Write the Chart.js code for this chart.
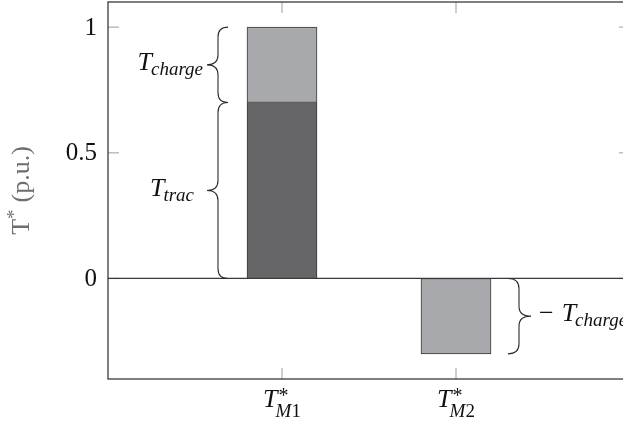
<!DOCTYPE html>
<html>
<head>
<meta charset="utf-8">
<script src="https://cdn.jsdelivr.net/npm/chart.js@4/dist/chart.umd.min.js"></script>
<style>
  html, body { margin: 0; padding: 0; background: #fff; overflow: hidden; }
  canvas { display: block; }
</style>
</head>
<body>
<canvas id="chart" width="640" height="425"></canvas>
<script>
// --- data ---
const categories = ['M1', 'M2'];      // subscript of T* on the x axis
const categoryPos = [1, 2];           // positions on a 0..3 x axis
const tracValues = [0.7, null];
const chargeValues = [0.3, -0.3];
const yTicks = [0, 0.5, 1];
const yMin = -0.4, yMax = 1.1;
const xMin = 0, xMax = 3;

const SERIF = '"Liberation Serif", "DejaVu Serif", serif';
const DARK = '#666668';
const LIGHT = '#a8a9ac';
const EDGE = '#3a3a3a';
const BAR_W = 70;

function font(size, italic) {
  return (italic ? 'italic ' : '') + size + 'px ' + SERIF;
}

// draw a run of text pieces: {t, size, italic, dy, gap}
function runWidth(ctx, parts) {
  let w = 0;
  parts.forEach(p => { ctx.font = font(p.size, p.italic); w += (p.gap || 0) + ctx.measureText(p.t).width; });
  return w;
}
function drawRun(ctx, parts, x, y, align) {
  const w = runWidth(ctx, parts);
  let cx = align === 'right' ? x - w : align === 'center' ? x - w / 2 : x;
  parts.forEach(p => {
    cx += p.gap || 0;
    ctx.font = font(p.size, p.italic);
    ctx.fillText(p.t, cx, y + (p.dy || 0));
    cx += ctx.measureText(p.t).width;
  });
}

// vertical curly brace between y1 (top) and y2 (bottom); ends at xEnd, spine at xMid, tip at xTip
function brace(ctx, xEnd, xMid, xTip, y1, y2) {
  const r = 10, ym = (y1 + y2) / 2;
  ctx.beginPath();
  ctx.moveTo(xEnd, y1);
  ctx.quadraticCurveTo(xMid, y1, xMid, y1 + r);
  ctx.lineTo(xMid, ym - r);
  ctx.quadraticCurveTo(xMid, ym, xTip, ym);
  ctx.quadraticCurveTo(xMid, ym, xMid, ym + r);
  ctx.lineTo(xMid, y2 - r);
  ctx.quadraticCurveTo(xMid, y2, xEnd, y2);
  ctx.stroke();
  return ym;
}

const decor = {
  id: 'decor',
  afterDatasetsDraw(chart) {
    const { ctx, chartArea: a, scales: { x, y } } = chart;
    const line = (x1, y1, x2, y2) => { ctx.beginPath(); ctx.moveTo(x1, y1); ctx.lineTo(x2, y2); ctx.stroke(); };
    ctx.save();

    // inward ticks, light gray
    ctx.strokeStyle = '#b4b4b4';
    ctx.lineWidth = 1.3;
    yTicks.forEach(v => {
      const py = y.getPixelForValue(v);
      line(a.left, py, a.left + 11, py);
      line(a.right - 11, py, a.right, py);
    });
    categoryPos.forEach(v => {
      const px = x.getPixelForValue(v);
      line(px, a.bottom, px, a.bottom - 11);
      line(px, a.top, px, a.top + 11);
    });

    // frame and zero line
    ctx.strokeStyle = EDGE;
    ctx.lineWidth = 1.3;
    ctx.strokeRect(a.left, a.top, a.right - a.left, a.bottom - a.top);
    const y0 = y.getPixelForValue(0);
    line(a.left, y0, a.right, y0);

    // y tick labels
    ctx.fillStyle = '#111';
    ctx.font = font(25, false);
    ctx.textAlign = 'right';
    ctx.textBaseline = 'middle';
    yTicks.forEach(v => ctx.fillText(String(v), a.left - 11, y.getPixelForValue(v) + 1));
    ctx.textAlign = 'left';
    ctx.textBaseline = 'alphabetic';

    // x tick labels  T*_{Mi}
    categories.forEach((c, i) => {
      const cx = x.getPixelForValue(categoryPos[i]);
      const base = 407;
      ctx.font = font(26, true);
      const wT = ctx.measureText('T').width;
      ctx.font = font(20, false);
      const wS = ctx.measureText('*').width;
      const sub = [{ t: c[0], size: 19, italic: true }, { t: c.slice(1), size: 19 }];
      const wSub = runWidth(ctx, sub);
      const total = wT + Math.max(wS + 1, wSub - 2);
      const x0 = cx - total / 2;
      ctx.font = font(26, true);
      ctx.fillText('T', x0, base);
      ctx.font = font(20, false);
      ctx.fillText('*', x0 + wT + 1, base - 5);
      drawRun(ctx, sub, x0 + wT - 2, base + 10, 'left');
    });

    // y axis title  T* (p.u.)
    ctx.save();
    ctx.fillStyle = '#6e6e6e';
    ctx.translate(29, (a.top + a.bottom) / 2);
    ctx.rotate(-Math.PI / 2);
    drawRun(ctx, [
      { t: 'T', size: 26 },
      { t: '*', size: 19, dy: -9 },
      { t: '(p.u.)', size: 26, gap: 7 }
    ], 0, 0, 'center');
    ctx.restore();

    // braces with labels
    ctx.strokeStyle = '#2a2a2a';
    ctx.lineWidth = 1.1;
    ctx.fillStyle = '#111';
    const p1 = x.getPixelForValue(categoryPos[0]);
    const p2 = x.getPixelForValue(categoryPos[1]);
    const l1 = p1 - BAR_W / 2;
    const r2 = p2 + BAR_W / 2;
    const yTrac = y.getPixelForValue(tracValues[0]);
    const yTop = y.getPixelForValue(tracValues[0] + chargeValues[0]);
    const yNeg = y.getPixelForValue(chargeValues[1]);

    let ym = brace(ctx, l1 - 19, l1 - 29, l1 - 40, yTop, yTrac);
    drawRun(ctx, [{ t: 'T', size: 26, italic: true }, { t: 'charge', size: 19, italic: true, dy: 5, gap: -1 }], l1 - 44, ym + 5, 'right');

    ym = brace(ctx, l1 - 19, l1 - 29, l1 - 40, yTrac, y0);
    drawRun(ctx, [{ t: 'T', size: 26, italic: true }, { t: 'trac', size: 19, italic: true, dy: 5, gap: -1 }], l1 - 53, ym + 5, 'right');

    ym = brace(ctx, r2 + 17, r2 + 28, r2 + 40, y0, yNeg);
    drawRun(ctx, [{ t: '\u2212', size: 26 }, { t: 'T', size: 26, italic: true, gap: 8 }, { t: 'charge', size: 19, italic: true, dy: 5, gap: -1 }], r2 + 48, ym + 5, 'left');

    ctx.restore();
  }
};

new Chart(document.getElementById('chart'), {
  type: 'bar',
  data: {
    datasets: [
      {
        label: 'T_trac',
        data: categoryPos.map((p, i) => ({ x: p, y: tracValues[i] })),
        backgroundColor: DARK,
        borderColor: EDGE,
        borderWidth: 1,
        borderSkipped: false,
        barThickness: BAR_W
      },
      {
        label: 'T_charge',
        data: categoryPos.map((p, i) => ({ x: p, y: chargeValues[i] })),
        backgroundColor: LIGHT,
        borderColor: EDGE,
        borderWidth: 1,
        borderSkipped: false,
        barThickness: BAR_W
      }
    ]
  },
  options: {
    responsive: false,
    animation: false,
    events: [],
    layout: { padding: { left: 0, right: 10, top: 2, bottom: 0 } },
    plugins: { legend: { display: false }, tooltip: { enabled: false } },
    scales: {
      x: {
        type: 'linear',
        min: xMin,
        max: xMax,
        offset: false,
        stacked: true,
        grid: { display: false, drawTicks: false },
        border: { display: false },
        ticks: { display: false },
        afterBuildTicks: s => { s.ticks = categoryPos.map(v => ({ value: v })); },
        afterFit: s => { s.height = 46; }
      },
      y: {
        min: yMin,
        max: yMax,
        stacked: true,
        grid: { display: false, drawTicks: false },
        border: { display: false },
        ticks: { display: false },
        afterBuildTicks: s => { s.ticks = yTicks.map(v => ({ value: v })); },
        afterFit: s => { s.width = 108; }
      }
    }
  },
  plugins: [decor]
});
</script>
</body>
</html>
